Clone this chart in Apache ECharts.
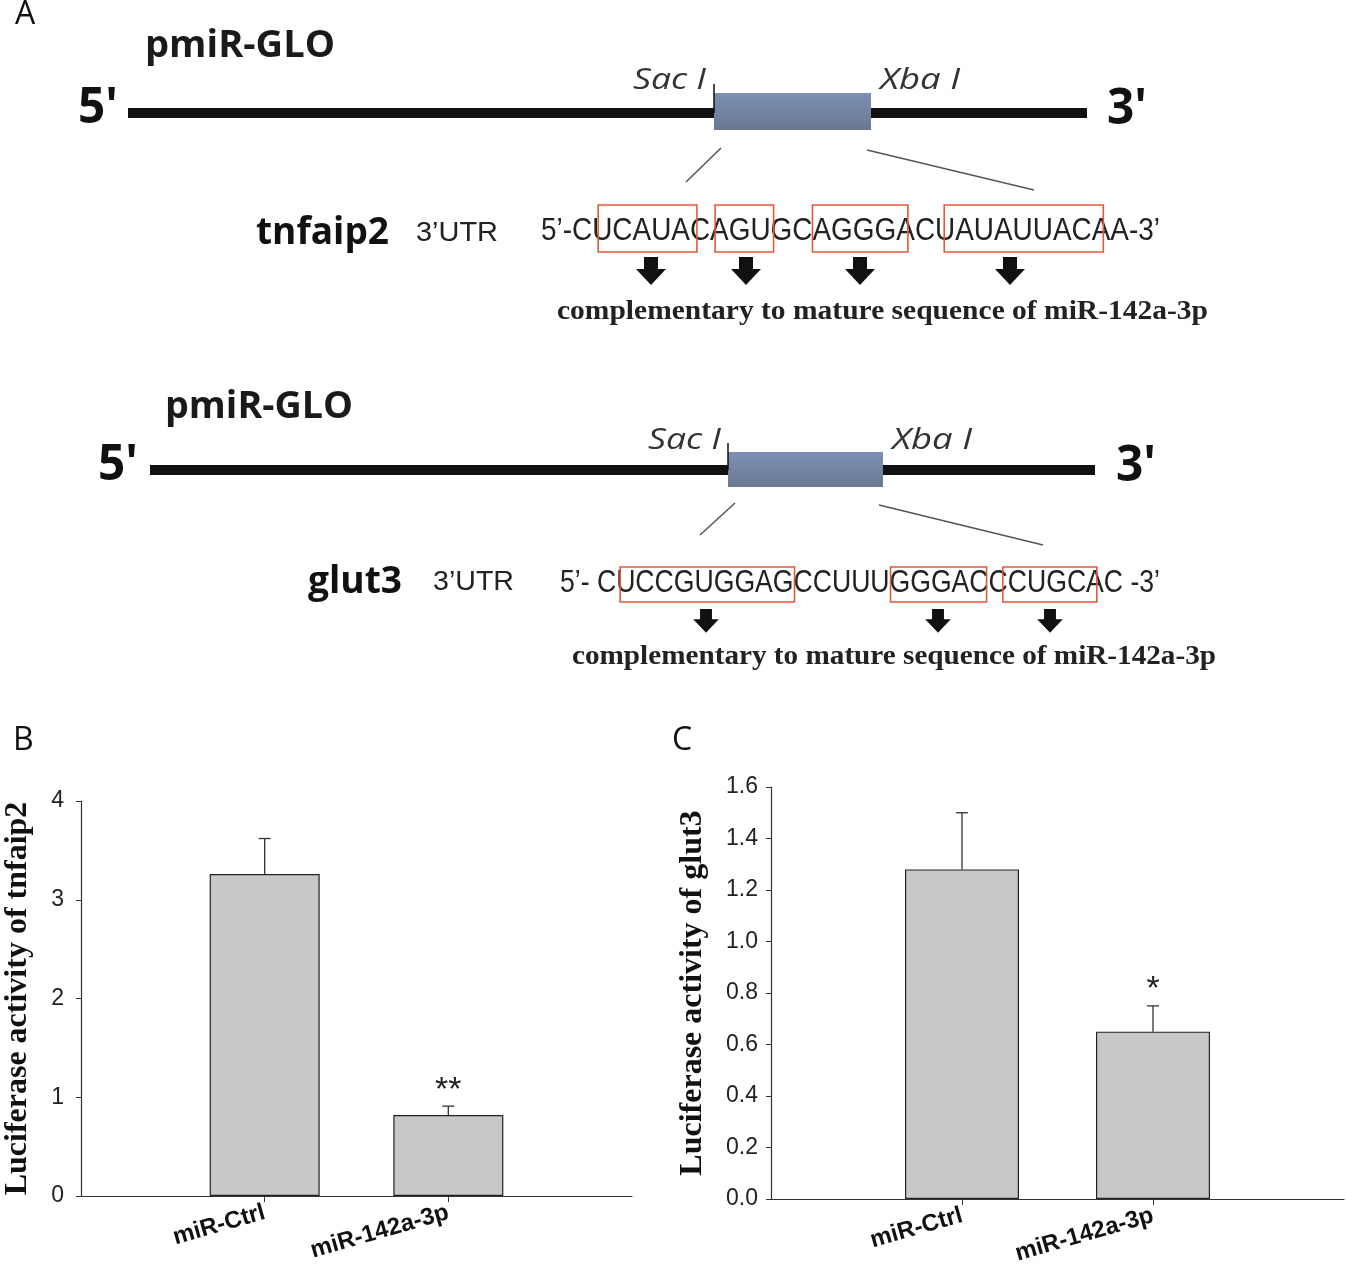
<!DOCTYPE html>
<html>
<head>
<meta charset="utf-8">
<script src="https://cdn.jsdelivr.net/npm/echarts@6/dist/echarts.min.js"></script>
<style>
html,body{margin:0;padding:0;background:#fff;}
#chart{width:1346px;height:1269px;}
</style>
</head>
<body>
<div id="chart"></div>
<script>
// ---- data ----
const categories = ['miR-Ctrl', 'miR-142a-3p'];
const tnfaip2Mean = [3.26, 0.82];
const tnfaip2Err = [0.36, 0.09];
const tnfaip2Sig = ['', '**'];
const glut3Mean = [1.28, 0.65];
const glut3Err = [0.22, 0.10];
const glut3Sig = ['', '*'];
const tnfaip2Ticks = {min: 0, max: 4, interval: 1};
const glut3Ticks = {min: 0, max: 1.6, interval: 0.2};

// ---- helpers for the schematic (panel A) ----
const ctx = document.createElement('canvas').getContext('2d');
function measure(text, font) { ctx.font = font; return ctx.measureText(text).width; }
function txt(text, left, cy, font, width, fill) {
  const w = measure(text, font);
  return {
    type: 'text', x: left, y: cy, scaleX: width ? width / w : 1,
    style: {text: text, font: font, fill: fill || '#111',
      textAlign: 'left', textVerticalAlign: 'middle', align: 'left', verticalAlign: 'middle'}
  };
}
function seqRow(segs, left, cy, font, width, boxTop, boxBottom) {
  const full = segs.map(s => s.t).join('');
  const sx = width / measure(full, font);
  const els = [txt(full, left, cy, font, width, '#222')];
  let prefix = '';
  segs.forEach(s => {
    if (s.box) {
      const x0 = left + measure(prefix, font) * sx - (s.pl == null ? 3 : s.pl);
      const x1 = left + measure(prefix + s.t, font) * sx + (s.pr == null ? 3 : s.pr);
      els.push({type: 'rect', shape: {x: x0, y: boxTop, width: x1 - x0, height: boxBottom - boxTop},
        style: {fill: 'none', stroke: '#e2583e', lineWidth: 1.6}});
    }
    prefix += s.t;
  });
  return els;
}
function arrow(cx, y0, k) {
  k = k || 1;
  const sw = 7 * k, sh = 12 * k, hw = 15 * k, h = 28 * k;
  return {type: 'polygon', shape: {points: [[cx - sw, y0], [cx + sw, y0], [cx + sw, y0 + sh], [cx + hw, y0 + sh],
    [cx, y0 + h], [cx - hw, y0 + sh], [cx - sw, y0 + sh]]}, style: {fill: '#111'}};
}
function construct(o) {
  const grad = new echarts.graphic.LinearGradient(0, 0, 0, 1, [{offset: 0, color: '#7b90b4'}, {offset: 1, color: '#6a7891'}]);
  return [
    txt('pmiR-GLO', o.pmX, o.pmY, 'bold 38px "Open Sans"', o.pmW, '#1a1a1a'),
    txt("5'", o.fiveX, o.lineY - 4, 'bold 50px "Open Sans"', 40),
    {type: 'rect', shape: {x: o.lx0, y: o.lineY - 5, width: o.lx1 - o.lx0, height: 10}, style: {fill: '#111'}},
    {type: 'rect', shape: {x: o.bx, y: o.by, width: o.bw, height: o.bh}, style: {fill: grad}},
    {type: 'line', shape: {x1: o.bx, y1: o.by - 9, x2: o.bx, y2: o.lineY}, style: {stroke: '#111', lineWidth: 1.5}},
    txt('Sac I', o.sacX, o.labY, 'italic 30px "Open Sans"', 73, '#333'),
    txt('Xba I', o.xbaX, o.labY, 'italic 30px "Open Sans"', 80, '#333'),
    txt("3'", o.threeX, o.lineY - 3, 'bold 50px "Open Sans"', 40),
    {type: 'line', shape: o.d1, style: {stroke: '#555', lineWidth: 1.5}},
    {type: 'line', shape: o.d2, style: {stroke: '#555', lineWidth: 1.5}}
  ];
}

const graphicEls = [].concat(
  txt('A', 15, 15, '32px "Open Sans"', 0, '#111'),
  txt('B', 13, 741, '32px "Open Sans"', 0, '#111'),
  txt('C', 672, 741, '32px "Open Sans"', 0, '#111'),
  construct({pmX: 145, pmY: 46, pmW: 190, fiveX: 78, lineY: 113, lx0: 128, lx1: 1087,
    bx: 714, by: 93, bw: 157, bh: 37, sacX: 633, xbaX: 880, labY: 80, threeX: 1107,
    d1: {x1: 721, y1: 148, x2: 686, y2: 182}, d2: {x1: 867, y1: 150, x2: 1034, y2: 190}}),
  txt('tnfaip2', 256, 233, 'bold 37px "Open Sans"', 133),
  txt('3’UTR', 416, 233, '28px "Liberation Sans"', 82, '#222'),
  seqRow([{t: '5’-C'}, {t: 'UCAUA', box: true, pl: -6, pr: 7}, {t: 'C'}, {t: 'AGU', box: true, pl: -5, pr: 3}, {t: 'GC'},
    {t: 'AGGGA', box: true, pl: 0, pr: -7}, {t: 'CU'}, {t: 'AUAUUACA', box: true, pl: 11, pr: -7}, {t: 'A-3’'}],
    541, 231, '31px "Liberation Sans"', 619, 205, 252),
  arrow(651, 257), arrow(746, 257), arrow(860, 257), arrow(1010, 257),
  txt('complementary to mature sequence of miR-142a-3p', 557, 312, 'bold 28px "Liberation Serif"', 651, '#222'),
  construct({pmX: 165, pmY: 407, pmW: 188, fiveX: 98, lineY: 470, lx0: 150, lx1: 1095,
    bx: 728, by: 452, bw: 155, bh: 35, sacX: 648, xbaX: 892, labY: 440, threeX: 1116,
    d1: {x1: 735, y1: 503, x2: 700, y2: 535}, d2: {x1: 879, y1: 505, x2: 1043, y2: 545}}),
  txt('glut3', 308, 582, 'bold 37px "Open Sans"', 94),
  txt('3’UTR', 433, 582, '28px "Liberation Sans"', 81, '#222'),
  seqRow([{t: '5’- C'}, {t: 'UCCGUGGAG', box: true, pl: -4, pr: 1}, {t: 'CCUUU'}, {t: 'GGGAC', box: true, pl: -1, pr: -2}, {t: 'C'},
    {t: 'CUGCA', box: true, pl: 5, pr: -7}, {t: 'C -3’'}],
    560, 583, '31px "Liberation Sans"', 600, 567, 602),
  arrow(706, 609, 0.85), arrow(938, 609, 0.85), arrow(1050, 609, 0.85),
  txt('complementary to mature sequence of miR-142a-3p', 572, 657, 'bold 28px "Liberation Serif"', 644, '#222')
);

// ---- charts (panels B, C) ----
const catData = [''].concat(categories, ['']);
const showIdx = (i) => i === 1 || i === 2;
function xAxisFor(gi) {
  return {
    type: 'category', gridIndex: gi, data: catData, boundaryGap: false,
    axisLine: {lineStyle: {color: '#333', width: 1.2}},
    axisTick: {show: true, interval: showIdx, length: 6, lineStyle: {color: '#333'}},
    axisLabel: {interval: showIdx, rotate: 16, margin: 16, fontSize: 24, fontWeight: 'bold',
      fontFamily: 'Liberation Sans', color: '#111'},
    splitLine: {show: false}
  };
}
function yAxisFor(gi, ticks, name, gap, margin, dec) {
  return {
    type: 'value', gridIndex: gi, min: ticks.min, max: ticks.max, interval: ticks.interval,
    name: name, nameLocation: 'middle', nameRotate: 90, nameGap: gap,
    nameTextStyle: {fontFamily: 'Liberation Serif', fontWeight: 'bold', fontSize: 32, color: '#111'},
    axisLine: {show: true, lineStyle: {color: '#333', width: 1.2}},
    axisTick: {show: true, length: 5, lineStyle: {color: '#333'}},
    axisLabel: {fontSize: 23, fontFamily: 'Liberation Sans', color: '#222', margin: margin,
      formatter: (v) => v.toFixed(dec)},
    splitLine: {show: false}
  };
}
function barSeries(gi, mean, bw) {
  return {type: 'bar', xAxisIndex: gi, yAxisIndex: gi, data: [null].concat(mean, [null]),
    barWidth: bw, itemStyle: {color: '#c8c8c8', borderColor: '#222', borderWidth: 1.2}, z: 2};
}
function errSeries(gi, mean, err, sig) {
  return {
    type: 'custom', xAxisIndex: gi, yAxisIndex: gi, z: 5,
    data: mean.map((m, i) => [i + 1, m, m + err[i]]),
    renderItem: function (params, api) {
      const x = api.value(0);
      const top = api.coord([x, api.value(1)]);
      const hi = api.coord([x, api.value(2)]);
      const children = [
        {type: 'line', shape: {x1: top[0], y1: top[1], x2: hi[0], y2: hi[1]}, style: {stroke: '#333', lineWidth: 1.3}},
        {type: 'line', shape: {x1: hi[0] - 6, y1: hi[1], x2: hi[0] + 6, y2: hi[1]}, style: {stroke: '#333', lineWidth: 1.3}}
      ];
      const s = sig[params.dataIndex];
      if (s) {
        children.push({type: 'text', x: hi[0], y: hi[1] - 16,
          style: {text: s, font: '34px "Liberation Sans"', fill: '#222', textAlign: 'center', align: 'center',
            textVerticalAlign: 'middle', verticalAlign: 'middle'}});
      }
      return {type: 'group', children: children};
    }
  };
}

const chart = echarts.init(document.getElementById('chart'), null, {renderer: 'canvas'});
chart.setOption({
  animation: false,
  backgroundColor: '#fff',
  textStyle: {fontFamily: 'Liberation Sans'},
  grid: [
    {left: 81, top: 801, width: 551, height: 395},
    {left: 771, top: 787, width: 573, height: 412}
  ],
  xAxis: [xAxisFor(0), xAxisFor(1)],
  yAxis: [
    yAxisFor(0, tnfaip2Ticks, 'Luciferase activity of tnfaip2', 47, 17, 0),
    yAxisFor(1, glut3Ticks, 'Luciferase activity of glut3', 62, 13, 1)
  ],
  series: [
    barSeries(0, tnfaip2Mean, 110), errSeries(0, tnfaip2Mean, tnfaip2Err, tnfaip2Sig),
    barSeries(1, glut3Mean, 114), errSeries(1, glut3Mean, glut3Err, glut3Sig)
  ],
  graphic: {elements: graphicEls}
});
</script>
</body>
</html>
